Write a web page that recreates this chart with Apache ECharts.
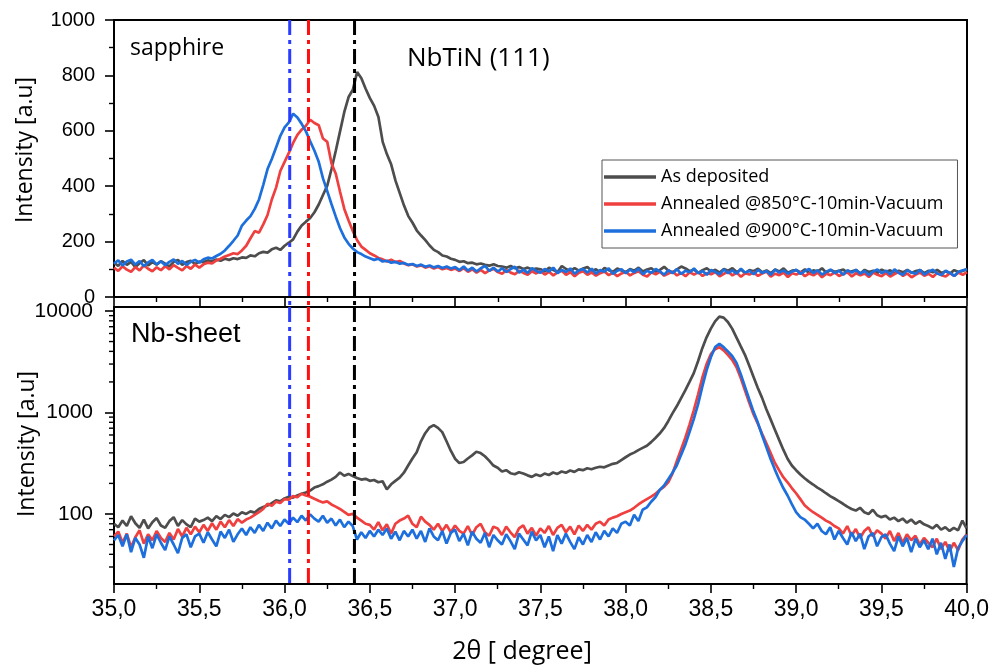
<!DOCTYPE html>
<html><head><meta charset="utf-8">
<script src="https://cdn.jsdelivr.net/npm/echarts@6/dist/echarts.min.js"></script>
<style>html,body{margin:0;padding:0;background:#fff}#c{width:992px;height:670px}</style>
</head><body><div id="c"></div><script>
// 2θ grid of the scans (degrees)
const thetaStart = 35.0, thetaStep = 0.025;
const seriesNames = ['As deposited', 'Annealed @850°C-10min-Vacuum', 'Annealed @900°C-10min-Vacuum'];
const seriesColors = ['#4d4d4d', '#ef3f3f', '#1c6fdc'];

// NbTiN on sapphire (linear intensity)
const sapAsDeposited = [
124,112,130,116,127,108,122,133,114,126,
117,129,120,110,127,134,116,126,131,119,
128,126,132,129,135,131,138,134,140,137,
143,141,150,147,158,163,160,172,178,170,
185,196,208,236,258,272,285,306,334,368,
402,462,528,598,668,722,748,812,790,752,
718,690,650,560,515,478,420,375,330,292,
268,240,222,205,186,170,162,150,146,138,
134,127,129,122,124,118,121,116,113,118,
112,110,106,112,104,108,101,106,99,103,
100,92,106,97,90,112,101,94,104,95,
103,108,94,100,89,105,97,91,103,96,
90,101,95,106,92,99,104,91,98,109,
95,88,100,110,103,93,99,87,97,104,
92,98,88,101,95,104,90,99,86,97,
93,102,89,96,86,99,92,103,88,95,
97,89,100,86,96,92,104,88,97,91,
95,99,87,93,97,85,98,90,95,87,
99,91,96,86,95,89,98,87,94,97,
86,95,89,98,87,93,85,97,90,94,
101];
const sap850 = [
106,94,111,99,91,108,96,114,102,93,
107,97,111,100,115,105,96,112,102,117,
106,118,124,121,132,138,146,152,158,155,
168,185,212,238,232,262,296,352,395,455,
488,520,556,585,604,618,640,628,620,572,
560,482,445,380,318,276,238,205,182,170,
158,150,141,136,128,135,126,130,121,115,
118,110,114,106,111,103,108,100,105,98,
103,94,104,91,100,88,98,86,96,101,
90,84,97,88,82,95,87,80,93,85,
94,81,91,78,89,95,80,90,75,88,
93,80,89,77,86,92,79,88,75,85,
91,78,87,93,80,74,89,82,91,77,
85,92,78,87,75,89,81,90,76,86,
82,90,75,84,91,78,88,73,86,81,
89,76,85,92,74,84,79,88,72,86,
81,90,75,85,78,88,71,84,79,89,
76,84,89,74,86,78,85,72,88,80,
75,87,74,83,90,76,85,71,81,88,
77,84,72,87,79,74,86,76,88,80,
90];
const sap900 = [
121,132,114,128,135,117,130,111,125,134,
118,129,115,127,136,120,130,116,127,134,
124,136,142,139,148,156,168,185,203,222,
258,276,292,318,352,405,462,498,540,582,
612,630,662,648,625,598,562,528,488,428,
382,335,290,248,215,192,175,162,155,146,
140,134,138,128,131,124,127,120,123,116,
119,112,117,109,114,107,112,105,110,103,
108,97,110,95,106,92,104,112,94,106,
92,104,90,101,109,88,99,87,104,94,
88,101,92,106,86,98,90,103,84,96,
101,88,102,84,97,91,104,83,95,100,
86,99,89,103,82,95,87,101,92,81,
97,86,101,83,95,89,103,85,94,80,
98,90,82,100,86,96,84,102,88,95,
82,98,87,94,80,99,88,96,84,92,
98,83,94,101,86,97,81,91,99,86,
95,80,97,88,98,84,94,79,92,99,
86,95,82,100,87,80,97,89,84,98,
81,92,98,85,79,95,87,76,91,96,
100];

// NbTiN on Nb-sheet (log intensity)
const nbAsDeposited = [
80,74,86,76,95,81,73,88,72,83,
91,77,73,85,93,76,87,79,74,90,
84,87,92,85,95,89,98,93,101,96,
104,100,106,103,112,117,121,128,136,133,
142,148,145,152,158,163,170,182,188,196,
208,218,232,256,238,248,236,226,218,222,
212,216,205,210,175,196,212,228,255,300,
352,405,520,625,712,750,705,640,520,420,
350,318,325,352,378,410,398,370,335,300,
285,262,270,252,246,258,250,240,232,245,
236,250,242,256,248,262,255,268,260,275,
270,282,276,285,292,288,300,312,318,340,
362,385,402,425,448,470,510,560,620,700,
820,980,1150,1380,1650,2000,2440,3200,4300,5500,
6700,7900,8800,8600,7800,6700,5500,4500,3700,2900,
2250,1750,1400,1080,860,680,540,430,350,300,
270,245,225,208,195,182,172,160,150,142,
134,126,118,112,108,115,104,100,110,97,
93,96,88,92,85,90,82,88,80,85,
79,76,72,78,70,74,68,73,69,86,
72];
const nb850 = [
60,67,52,64,47,59,69,51,63,55,
68,58,53,65,56,71,60,73,63,75,
66,78,68,81,70,84,74,87,76,89,
82,88,92,98,104,112,126,120,132,128,
140,138,150,146,158,152,148,141,135,130,
133,124,118,112,105,98,100,92,86,80,
78,70,83,69,79,64,80,86,90,96,
80,74,94,84,78,70,80,68,78,66,
77,68,64,76,62,74,80,66,61,75,
72,62,75,66,59,72,77,64,73,61,
72,65,76,62,73,78,66,75,63,77,
68,78,70,80,84,77,88,92,95,100,
104,108,115,124,132,140,148,158,172,185,
205,250,330,430,560,760,1050,1500,2200,3000,
3750,4200,4400,4100,3700,3300,2800,2200,1650,1250,
960,780,620,500,400,320,270,230,205,180,
160,140,122,112,104,98,92,86,82,76,
72,64,76,61,71,58,68,74,60,69,
64,57,68,54,65,52,63,55,61,50,
58,52,47,57,45,53,43,52,44,56,
63];
const nb900 = [
55,62,48,63,42,58,50,37,60,46,
63,52,44,60,50,41,58,63,47,60,
64,52,66,56,48,67,58,70,53,63,
72,62,74,65,78,68,82,72,86,76,
88,80,92,83,96,86,99,90,84,96,
82,90,77,88,74,84,76,56,66,58,
68,60,70,62,72,57,67,55,68,60,
70,57,68,53,72,60,55,68,51,65,
70,54,64,49,67,57,52,65,47,62,
55,50,63,54,45,64,56,49,67,55,
62,47,60,43,62,51,64,53,45,59,
50,62,53,66,56,68,60,72,65,80,
84,77,98,85,110,116,132,146,172,190,
220,255,300,380,480,640,860,1200,1800,2600,
3500,4400,4750,4400,4000,3600,3100,2400,1800,1350,
1020,800,600,460,350,275,220,180,152,125,
104,93,88,80,72,80,68,63,74,56,
68,58,50,66,54,64,45,60,65,48,
59,63,51,43,60,48,58,42,57,47,
55,45,57,40,52,36,50,30,46,54,
62];

// Peak-position reference lines (2θ) and axis settings
const refLines = [36.03, 36.14, 36.41];
const refColors = ['#2a3cff', '#ff1010', '#000000'];
const xTicks = {min: 35, max: 40, interval: 0.5};
const topY = {min: 0, max: 1000, interval: 200};
const logY = {min: 20.4, max: 10950};
const logMinorTickValues = [2,3,4,5,6,7,8,9].flatMap(m => [10,100,1000].map(d => m*d))
  .filter(v => v > logY.min && v < logY.max);

const toPairs = arr => arr.map((v, i) => [+(thetaStart + i * thetaStep).toFixed(3), v]);

const chart = echarts.init(document.getElementById('c'), null, {renderer: 'canvas'});
const axisFont = 'Liberation Sans, Arial, sans-serif';
const softFont = 'Open Sans, Noto Sans, sans-serif';

function xAxisCfg(grid, labels) {
  return {
    gridIndex: grid, type: 'value', min: xTicks.min, max: xTicks.max, interval: xTicks.interval,
    axisLine: {lineStyle: {color: '#000', width: 2}},
    axisTick: {show: true, inside: false, length: 9, lineStyle: {color: '#000', width: 1.6}},
    minorTick: {show: true, splitNumber: 2, length: 5, lineStyle: {color: '#000', width: 1.4}},
    splitLine: {show: false},
    axisLabel: {show: labels, color: '#000', fontSize: 23, fontFamily: axisFont, margin: 14,
      formatter: v => v.toFixed(1).replace('.', ',')}
  };
}

const lineSeries = (name, color, data, g) => ({
  name, type: 'line', xAxisIndex: g, yAxisIndex: g, data: toPairs(data),
  symbol: 'none', showSymbol: false, sampling: 'none', silent: true,
  lineStyle: {color, width: 2.7}, itemStyle: {color}, z: 3
});

const refSeries = (g, yTopVal, yBotVal, extend) => ({
  type: 'custom', xAxisIndex: g, yAxisIndex: g, clip: false, silent: true, z: 10,
  data: refLines.map(x => [x, yTopVal]),
  renderItem(params, api) {
    const x = api.value(0);
    const a = api.coord([x, yTopVal]);
    const b = api.coord([x, yBotVal]);
    return {type: 'line', shape: {x1: a[0], y1: a[1], x2: b[0], y2: b[1] + extend},
      style: {stroke: refColors[params.dataIndex], lineWidth: 3, lineDash: [15, 5, 4, 5]}};
  }
});

chart.setOption({
  animation: false,
  backgroundColor: '#fff',
  grid: [
    {left: 114, top: 20, width: 853, height: 277, show: true, borderColor: '#000', borderWidth: 2, backgroundColor: 'transparent'},
    {left: 114, top: 307, width: 853, height: 277, show: true, borderColor: '#000', borderWidth: 2, backgroundColor: 'transparent'}
  ],
  xAxis: [xAxisCfg(0, false), xAxisCfg(1, true)],
  yAxis: [
    {gridIndex: 0, type: 'value', min: topY.min, max: topY.max, interval: topY.interval,
      axisLine: {show: true, lineStyle: {color: '#000', width: 2}},
      axisTick: {show: true, length: 9, lineStyle: {color: '#000', width: 1.6}},
      minorTick: {show: true, splitNumber: 2, length: 5, lineStyle: {color: '#000', width: 1.4}},
      splitLine: {show: false},
      axisLabel: {color: '#000', fontSize: 20, fontFamily: axisFont, margin: 19, formatter: v => String(v)}},
    {gridIndex: 1, type: 'log', logBase: 10, min: logY.min, max: logY.max,
      axisLine: {show: true, lineStyle: {color: '#000', width: 2}},
      axisTick: {show: true, length: 9, lineStyle: {color: '#000', width: 1.6}},
      minorTick: {show: false},
      splitLine: {show: false},
      axisLabel: {color: '#000', fontSize: 21, fontFamily: axisFont, margin: 21, showMinLabel: false, showMaxLabel: false,
        formatter: v => { const l = Math.log10(v); return Math.abs(l - Math.round(l)) < 1e-6 ? String(Math.round(v)) : ''; }}}
  ],
  legend: {
    data: seriesNames, orient: 'vertical', left: 602, top: 160,
    icon: 'rect', itemWidth: 52, itemHeight: 3.5, itemGap: 9,
    textStyle: {fontFamily: softFont, fontSize: 18, color: '#000', lineHeight: 18},
    borderColor: '#555', borderWidth: 1, padding: [8, 14, 8, 2], backgroundColor: '#fff',
    selectedMode: false, z: 20
  },
  graphic: [
    {type: 'text', x: 130, y: 48, style: {text: 'sapphire', font: '23px ' + softFont, fill: '#000', align: 'left', verticalAlign: 'middle'}},
    {type: 'text', x: 407, y: 59, style: {text: 'NbTiN (111)', font: '26px ' + softFont, fill: '#000', align: 'left', verticalAlign: 'middle'}},
    {type: 'text', x: 131, y: 335, style: {text: 'Nb-sheet', font: '27px ' + axisFont, fill: '#000', align: 'left', verticalAlign: 'middle'}},
    {type: 'text', x: 25, y: 150, rotation: Math.PI / 2, style: {text: 'Intensity [a.u]', font: '23px ' + softFont, fill: '#000', align: 'center', verticalAlign: 'middle'}},
    {type: 'text', x: 27, y: 444, rotation: Math.PI / 2, style: {text: 'Intensity [a.u]', font: '23px ' + softFont, fill: '#000', align: 'center', verticalAlign: 'middle'}},
    {type: 'text', x: 522, y: 652, style: {text: '2θ [ degree]', font: '25px ' + softFont, fill: '#000', align: 'center', verticalAlign: 'middle'}}
  ],
  series: [
    lineSeries(seriesNames[0], seriesColors[0], sapAsDeposited, 0),
    lineSeries(seriesNames[1], seriesColors[1], sap850, 0),
    lineSeries(seriesNames[2], seriesColors[2], sap900, 0),
    lineSeries(seriesNames[0], seriesColors[0], nbAsDeposited, 1),
    lineSeries(seriesNames[1], seriesColors[1], nb850, 1),
    lineSeries(seriesNames[2], seriesColors[2], nb900, 1),
    refSeries(0, topY.max, topY.min, 10),
    refSeries(1, logY.max, logY.min, 0),
    {type: 'custom', xAxisIndex: 1, yAxisIndex: 1, clip: false, silent: true, z: 5,
      data: logMinorTickValues.map(v => [xTicks.min, v]),
      renderItem(params, api) {
        const p = api.coord([api.value(0), api.value(1)]);
        return {type: 'line', shape: {x1: p[0] - 5, y1: p[1], x2: p[0], y2: p[1]},
          style: {stroke: '#000', lineWidth: 1.4}};
      }}
  ]
});
</script></body></html>
